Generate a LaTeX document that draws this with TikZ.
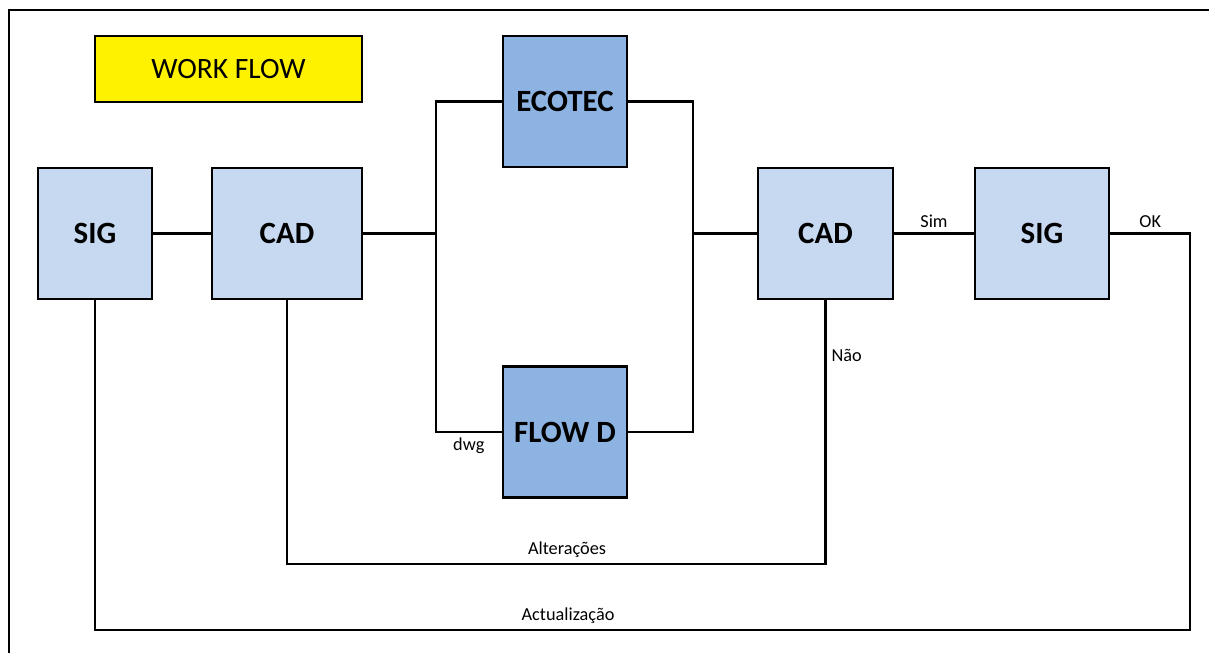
\documentclass[tikz,border=0pt]{standalone}
\usepackage{fontspec}
\setmainfont{Carlito}
\usetikzlibrary{positioning}

\definecolor{appblue}{RGB}{198,217,241}
\definecolor{toolblue}{RGB}{141,179,226}

\begin{document}
\begin{tikzpicture}[
    x=0.025cm, y=-0.025cm,
    title/.style={rectangle, draw, line width=2pt, fill=yellow, minimum width=6.675cm, minimum height=1.65cm, font=\fontsize{21}{25}\selectfont},
    app/.style={rectangle, draw, line width=2pt, fill=appblue, minimum height=3.275cm, font=\fontsize{22}{26}\selectfont\bfseries},
    tool/.style={app, fill=toolblue, minimum width=3.1cm},
    link/.style={draw, line width=2pt},
    tag/.style={font=\fontsize{13}{15}\selectfont}
]
    \useasboundingbox (0,0) rectangle (1209,653);

    % Cadre
    \draw[line width=1.4pt] (9,653) |- (1209,10);

    % Blocs
    \node[title] (title) at (228.5,69) {WORK FLOW};
    \node[app, minimum width=2.85cm] (sig1) at (95,233.5) {SIG};
    \node[app, minimum width=3.75cm] (cad1) at (287,233.5) {CAD};
    \node[tool] (ecotec) at (565,101.5) {ECOTEC};
    \node[tool] (flowd) at (565,432) {FLOW D};
    \node[app, minimum width=3.375cm] (cad2) at (825.5,233.5) {CAD};
    \node[app, minimum width=3.35cm] (sig2) at (1042,233.5) {SIG};

    % Points de jonction
    \coordinate (splitL) at (436,233.5);
    \coordinate (splitR) at (693,233.5);
    \coordinate (altR) at (825.5,564);
    \coordinate (updR) at (1190,630);

    % Liaisons
    \draw[link] (sig1) -- (cad1);
    \draw[link] (cad1) -- (splitL);
    \draw[link] (ecotec) -| (splitL) |- node[tag, pos=0.75, below] {dwg} (flowd);
    \draw[link] (ecotec) -| (splitR) |- (flowd);
    \draw[link] (splitR) -- (cad2);
    \draw[link] (cad2) -- node[tag, above] {Sim} (sig2);
    \draw[link] (cad2) -- node[tag, pos=0.21, right] {Não} (altR) -| node[tag, pos=0.24, above] {Alterações} (cad1);
    \draw[link] (sig2) -| node[tag, pos=0.25, above] {OK} (updR) -| node[tag, pos=0.284, above] {Actualização} (sig1);

\end{tikzpicture}
\end{document}
